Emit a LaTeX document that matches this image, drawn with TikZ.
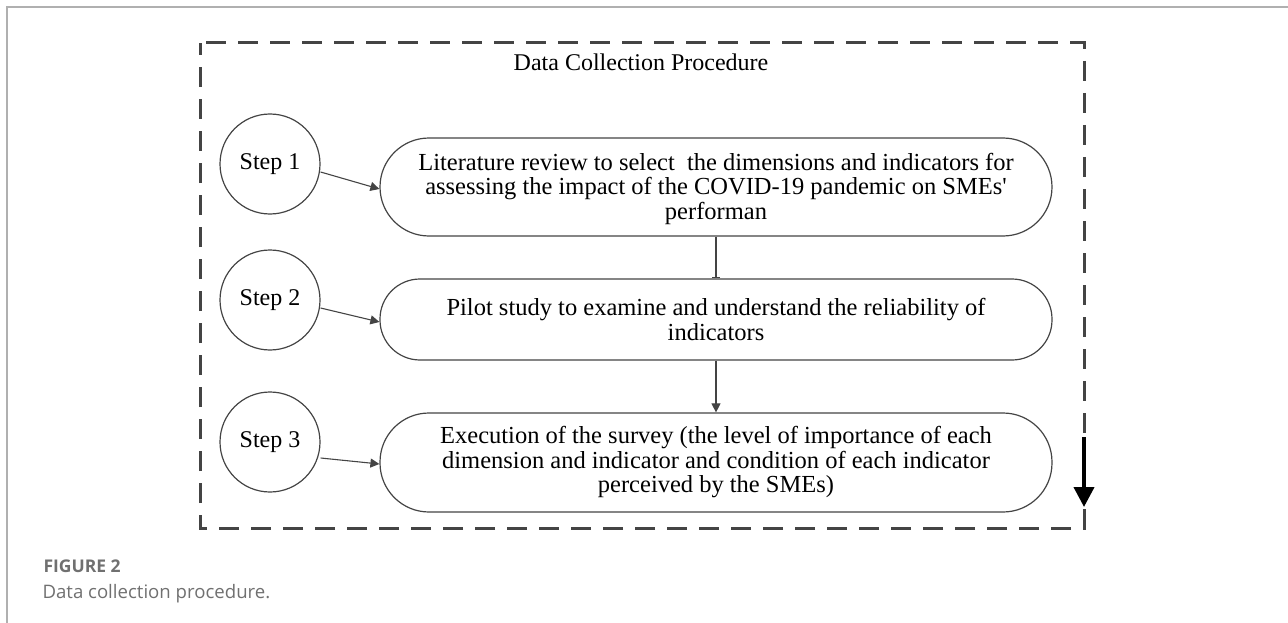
\documentclass[tikz,border=0pt]{standalone}
\usepackage{fontspec}
\setmainfont{Liberation Serif}
\newfontfamily\capfont{Open Sans}
\usetikzlibrary{arrows.meta}
\definecolor{frameg}{HTML}{B0B0B0}
\definecolor{capg}{HTML}{707070}
\definecolor{lineg}{HTML}{444444}
\begin{document}
\begin{tikzpicture}[x=1pt,y=-1pt,
  stepcircle/.style={circle,draw=lineg,line width=1.2pt,minimum size=100pt,inner sep=0pt,font=\fontsize{24}{24.5}\selectfont},
  stadium/.style={draw=lineg,line width=1.2pt,minimum width=672pt,align=center,font=\fontsize{24.5}{24.5}\selectfont,inner sep=0pt},
  link/.style={draw=lineg,line width=1.1pt,-{Triangle[length=9pt,width=9pt]}}]
\useasboundingbox (0,0) rectangle (1288,623);
\draw[frameg,line width=1.5pt] (7,623) -- (7,7) -- (1288,7);
% dashed frame
\draw[lineg,line width=3pt,dash pattern=on 20pt off 12pt] (206,43) -- (1084,43) -- (1084,528) -- (200,528) -- (200,43);
\node[font=\fontsize{24}{24}\selectfont] (title) at (641,62) {Data Collection Procedure};
% circles
\node[stepcircle] (s1) at (270,164) {Step 1};
\node[stepcircle] (s2) at (270,300) {Step 2};
\node[stepcircle] (s3) at (270,442) {Step 3};
% boxes
\node[stadium,minimum height=98pt,rounded corners=49pt,text depth=2pt] (b1) at (716,187) {Literature review to select\ \ the dimensions and indicators for\\assessing the impact of the COVID-19 pandemic on SMEs\textquotesingle\\performan};
\node[stadium,minimum height=81pt,rounded corners=40pt] (b2) at (716,319.5) {Pilot study to examine and understand the reliability of\\indicators};
\node[stadium,minimum height=99pt,rounded corners=49pt] (b3) at (716,462.5) {Execution of the survey (the level of importance of each\\dimension and indicator and condition of each indicator\\perceived by the SMEs)};
% connectors
\draw[link] (s1.east) ++(0,8) -- (b1.west |- 0,189);
\draw[link] (s2.east) ++(0,8) -- (b2.west |- 0,322);
\draw[link] (s3.east) ++(0,16) -- (b3.west |- 0,464);
\draw[lineg,line width=1.1pt,-{Bar[width=8pt]}] (b1.south) -- (b2.north);
\draw[link] (b2.south) -- (b3.north);
% thick arrow
\coordinate (ta) at (1084,437);
\coordinate (tb) at (1084,507);
\draw[black,line width=4pt,-{Triangle[length=20pt,width=20pt]}] (ta) -- (tb);
% caption
\node[anchor=west,text=capg,font=\capfont\bfseries\fontsize{17.5}{18}\selectfont] (fig) at (40,566) {FIGURE 2};
\node[anchor=west,text=capg,font=\capfont\fontsize{18.6}{22}\selectfont] (cap) at (39,594) {Data collection procedure.};
\end{tikzpicture}
\end{document}
